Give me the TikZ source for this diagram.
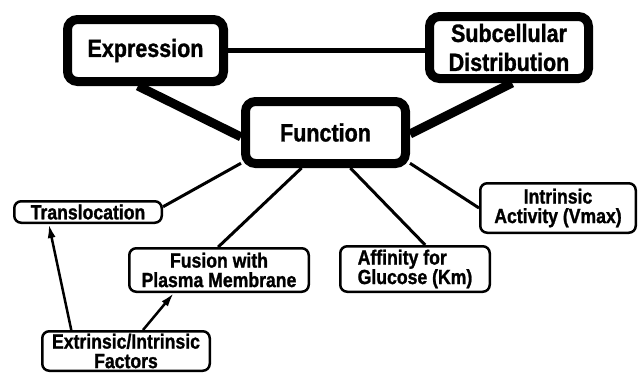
\documentclass[tikz,border=0pt]{standalone}
\usepackage{fontspec}
\setmainfont{Liberation Sans}
\newfontfamily\condbold{Liberation Sans Bold}[FakeStretch=0.86,FakeBold=1.2]
\usetikzlibrary{arrows.meta}
\begin{document}
\begin{tikzpicture}[x=1pt,y=-1pt,
  bigbox/.style={draw, line width=9pt, rounded corners=10pt, inner sep=0pt, align=center,
    font=\condbold\fontsize{25}{29}\selectfont},
  smallbox/.style={draw, line width=2.5pt, rounded corners=7pt, inner sep=0pt, align=center,
    font=\condbold\fontsize{20.5}{19.5}\selectfont},
  heavy/.style={line width=9pt},
  medium/.style={line width=5pt},
  thinline/.style={line width=3pt},
  arr/.style={line width=2.5pt, -{Latex[length=14pt,width=8pt]}}]
\useasboundingbox (0,0) rectangle (639,375);

\node[bigbox, minimum width=156pt, minimum height=62pt] (expr) at (145.5,50.5) {Expression};
\node[bigbox, minimum width=159pt, minimum height=62pt] (sub) at (509,47.5) {Subcellular\\Distribution};
\node[bigbox, minimum width=160pt, minimum height=62pt] (fn) at (325.5,132.5) {Function};

\node[smallbox, minimum width=147.5pt, minimum height=21.5pt] (trans) at (88,212) {Translocation};
\node[smallbox, minimum width=179.5pt, minimum height=43.5pt] (fus) at (219,270) {Fusion with\\Plasma Membrane};
\node[smallbox, minimum width=149.5pt, minimum height=45.5pt, align=left] (aff) at (415,269) {Affinity for\\Glucose (Km)};
\node[smallbox, minimum width=155.5pt, minimum height=49.5pt] (intr) at (558,208) {Intrinsic\\Activity (Vmax)};
\node[smallbox, minimum width=167.5pt, minimum height=39.5pt] (ext) at (126,351) {Extrinsic/Intrinsic\\Factors};

\draw[medium] (expr.east) -- (sub.west |- expr.east);
\draw[heavy] (expr.-102) -- (fn.-177.6);
\draw[heavy] (sub.-85) -- (fn.-1.7);

\draw[thinline] (fn.-160.7) -- (trans.4.6);
\draw[thinline] (fn.-124.6) -- (fus.92);
\draw[thinline] (fn.-55.4) -- (aff.67);
\draw[thinline] (fn.-20.4) -- (intr.west);

\draw[arr] (ext.159) -- (trans.-163);
\draw[arr] (ext.51) -- (fus.-153);
\end{tikzpicture}
\end{document}
